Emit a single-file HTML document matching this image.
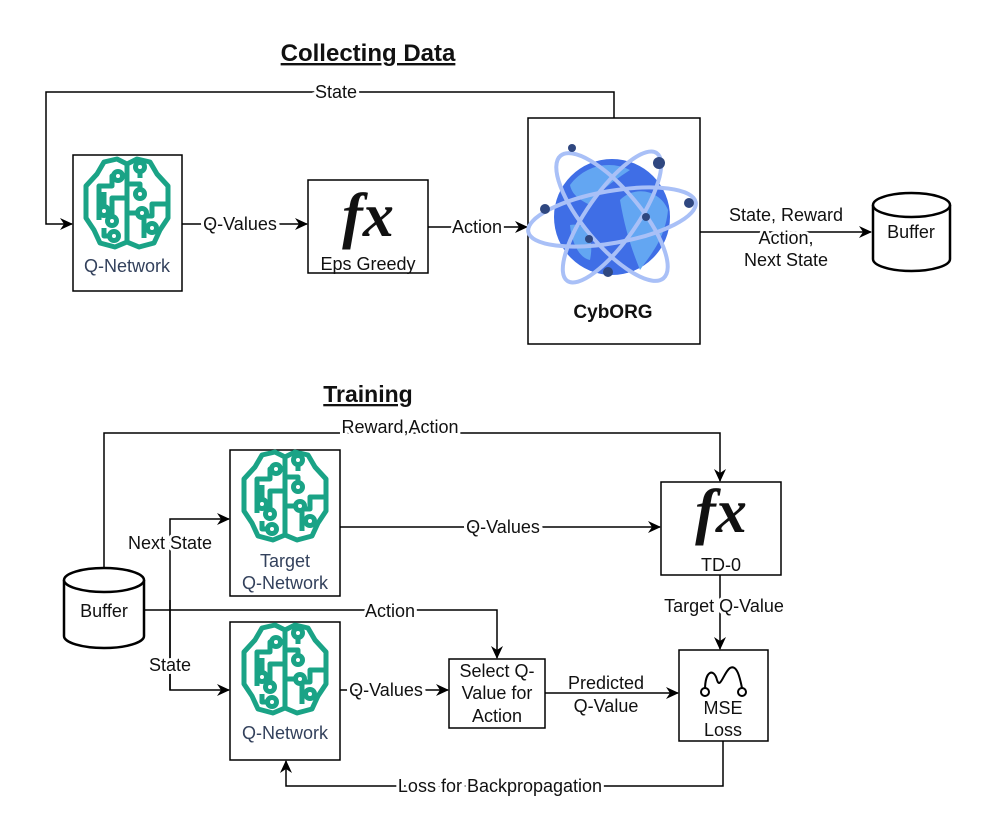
<!DOCTYPE html>
<html><head><meta charset="utf-8"><style>
html,body{margin:0;padding:0;background:#fff;}
svg{display:block;}
text{font-family:"Liberation Sans",Arial,sans-serif;font-size:18px;fill:#111;}
.lbl{paint-order:stroke;stroke:#fff;stroke-width:6px;}
.fx{font-family:"Liberation Serif",serif;font-style:italic;font-weight:bold;font-size:62px;}
</style></head><body>
<svg width="997" height="832" viewBox="0 0 997 832" xmlns="http://www.w3.org/2000/svg">
<defs>
<marker id="a" markerWidth="14" markerHeight="14" refX="12" refY="7" orient="auto" markerUnits="userSpaceOnUse">
<path d="M0,1 L13,7 L0,13 L4,7 z" fill="#000"/></marker>
<g id="brain" fill="none" stroke="#1aa386" stroke-width="5" stroke-linejoin="round">
<path d="M45,6 L35,1 L22,4 L15,16 L4,28 L4,60 L12,72 L18,85 L33,89 L45,84 L57,89 L72,85 L78,72 L86,60 L86,28 L75,16 L68,4 L55,1 Z"/>
<path d="M45,6 L45,84"/>
<path d="M17,62 L17,28 L30,28 L30,18 L33,18"/>
<path d="M22,50 L22,34"/>
<path d="M45,40 L30,40 L30,60"/>
<path d="M28,78 L22,78 L22,70"/>
<path d="M45,26 L58,26 L58,32"/>
<path d="M58,12 L58,20"/>
<path d="M86,46 L70,46 L70,58 L62,58 L62,80"/>
<path d="M45,55 L56,55"/>
<circle cx="36" cy="18" r="4.5" fill="#fff"/>
<circle cx="22" cy="53" r="4.5" fill="#fff"/>
<circle cx="30" cy="63" r="4.5" fill="#fff"/>
<circle cx="32" cy="78" r="4.5" fill="#fff"/>
<circle cx="58" cy="9" r="4.5" fill="#fff"/>
<circle cx="58" cy="36" r="4.5" fill="#fff"/>
<circle cx="60" cy="55" r="4.5" fill="#fff"/>
<circle cx="70" cy="70" r="4.5" fill="#fff"/>
</g>
</defs>

<text x="368" y="61" text-anchor="middle" style="font-size:24px;font-weight:bold;text-decoration:underline">Collecting Data</text>
<text x="368" y="402" text-anchor="middle" style="font-size:23px;font-weight:bold;text-decoration:underline">Training</text>

<g fill="none" stroke="#000" stroke-width="1.5">
<rect x="73" y="155" width="109" height="136" fill="#fff"/>
<rect x="308" y="180" width="120" height="93"/>
<rect x="528" y="118" width="172" height="226"/>
<path d="M614,118 V92 H46 V224 H72" marker-end="url(#a)"/>
<path d="M182,224 H307" marker-end="url(#a)"/>
<path d="M428,227 H527" marker-end="url(#a)"/>
<path d="M700,232 H871" marker-end="url(#a)"/>
<path d="M873,205 V259 A38.5,12 0 0 0 950,259 V205" fill="#fff" stroke-width="2.5"/>
<ellipse cx="911.5" cy="205" rx="38.5" ry="12" fill="#fff" stroke-width="2.5"/>

<rect x="230" y="450" width="110" height="146"/>
<rect x="230" y="622" width="110" height="138"/>
<rect x="661" y="482" width="120" height="93"/>
<rect x="449" y="659" width="96" height="69"/>
<rect x="679" y="650" width="89" height="91"/>
<path d="M104,568 V433 H720 V481" marker-end="url(#a)"/>
<path d="M170,690 V519 H229" marker-end="url(#a)"/>
<path d="M170,600 V690 H229" marker-end="url(#a)"/>
<path d="M144,610 H497 V658" marker-end="url(#a)"/>
<path d="M340,527 H660" marker-end="url(#a)"/>
<path d="M720,575 V649" marker-end="url(#a)"/>
<path d="M340,690 H448" marker-end="url(#a)"/>
<path d="M545,693 H678" marker-end="url(#a)"/>
<path d="M723,741 V786 H286 V761" marker-end="url(#a)"/>
<path d="M64,580 V636 A40,12 0 0 0 144,636 V580" fill="#fff" stroke-width="2.5"/>
<ellipse cx="104" cy="580" rx="40" ry="12" fill="#fff" stroke-width="2.5"/>
<path d="M705,690 C705,670 714,668 717,680 C720,690 724,672 730,668 C737,664 740,678 742,688" stroke-width="2"/>
<circle cx="705" cy="692" r="4" fill="#fff" stroke-width="2"/>
<circle cx="742" cy="692" r="4" fill="#fff" stroke-width="2"/>
</g>

<use href="#brain" x="82" y="158"/>
<use href="#brain" x="240" y="451"/>
<use href="#brain" x="240" y="624"/>

<g>
<circle cx="612" cy="217" r="58" fill="#3f6ee6"/>
<path d="M570,185 C585,165 610,160 630,170 C615,180 600,190 590,205 C580,200 572,195 570,185Z" fill="#63a6f2"/>
<path d="M620,200 C635,185 660,190 668,210 C665,240 650,255 640,270 C632,250 625,230 620,200Z" fill="#63a6f2"/>
<path d="M570,225 C585,222 595,235 590,260 C580,258 572,245 570,225Z" fill="#63a6f2"/>
<g fill="none" stroke="#a9c0f7" stroke-width="4">
<ellipse cx="612" cy="217" rx="85" ry="26" transform="rotate(-10 612 217)"/>
<ellipse cx="612" cy="217" rx="80" ry="28" transform="rotate(50 612 217)"/>
<ellipse cx="612" cy="217" rx="78" ry="25" transform="rotate(-55 612 217)"/>
</g>
<g fill="#2f4780">
<circle cx="572" cy="148" r="4"/><circle cx="659" cy="163" r="6"/><circle cx="545" cy="209" r="5"/>
<circle cx="689" cy="203" r="5"/><circle cx="646" cy="217" r="4"/><circle cx="589" cy="239" r="4"/><circle cx="608" cy="272" r="5"/>
</g>
</g>

<text class="fx" x="368" y="236" text-anchor="middle">fx</text>
<text class="fx" x="721" y="532" text-anchor="middle">fx</text>

<text x="127" y="272" text-anchor="middle" style="fill:#33415c">Q-Network</text>
<text x="368" y="270" text-anchor="middle">Eps Greedy</text>
<text x="613" y="318" text-anchor="middle" style="font-weight:bold;font-size:19px">CybORG</text>
<text class="lbl" x="336" y="98" text-anchor="middle">State</text>
<text class="lbl" x="240" y="230" text-anchor="middle">Q-Values</text>
<text class="lbl" x="477" y="233" text-anchor="middle">Action</text>
<text class="lbl" x="786" y="221" text-anchor="middle">State, Reward</text>
<text class="lbl" x="786" y="244" text-anchor="middle">Action,</text>
<text class="lbl" x="786" y="266" text-anchor="middle">Next State</text>
<text x="911" y="238" text-anchor="middle">Buffer</text>

<text class="lbl" x="400" y="433" text-anchor="middle">Reward,Action</text>
<text class="lbl" x="170" y="549" text-anchor="middle">Next State</text>
<text class="lbl" x="170" y="671" text-anchor="middle">State</text>
<text class="lbl" x="390" y="617" text-anchor="middle">Action</text>
<text x="104" y="617" text-anchor="middle">Buffer</text>
<text x="285" y="567" text-anchor="middle" style="fill:#33415c">Target</text>
<text x="285" y="589" text-anchor="middle" style="fill:#33415c">Q-Network</text>
<text x="285" y="739" text-anchor="middle" style="fill:#33415c">Q-Network</text>
<text class="lbl" x="503" y="533" text-anchor="middle">Q-Values</text>
<text x="721" y="571" text-anchor="middle">TD-0</text>
<text class="lbl" x="724" y="612" text-anchor="middle">Target Q-Value</text>
<text class="lbl" x="386" y="696" text-anchor="middle">Q-Values</text>
<text x="497" y="677" text-anchor="middle">Select Q-</text>
<text x="497" y="699" text-anchor="middle">Value for</text>
<text x="497" y="722" text-anchor="middle">Action</text>
<text class="lbl" x="606" y="689" text-anchor="middle">Predicted</text>
<text class="lbl" x="606" y="712" text-anchor="middle">Q-Value</text>
<text x="723" y="714" text-anchor="middle">MSE</text>
<text x="723" y="736" text-anchor="middle">Loss</text>
<text class="lbl" x="500" y="792" text-anchor="middle">Loss for Backpropagation</text>
</svg>
</body></html>
